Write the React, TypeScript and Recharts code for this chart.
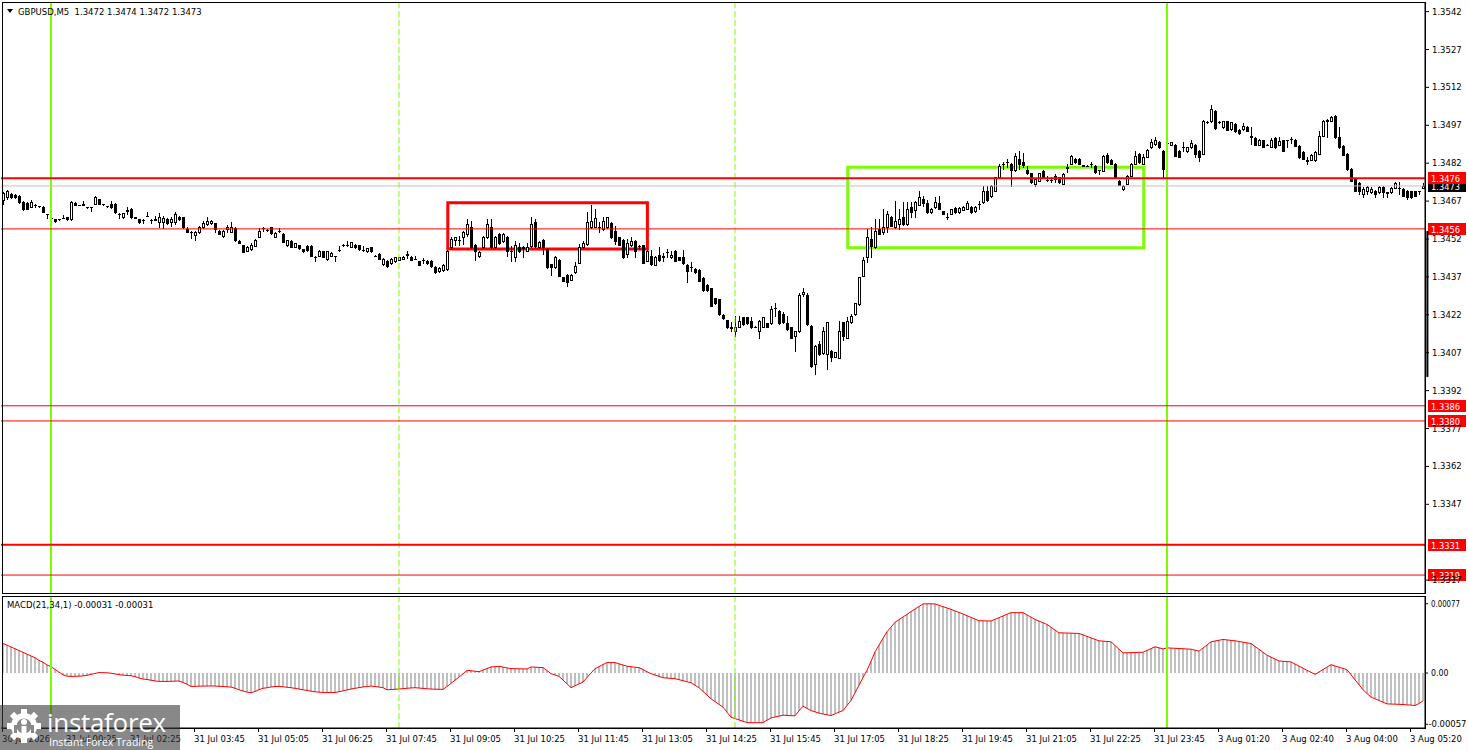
import React from 'react';
import { ComposedChart, Bar, Line, XAxis, YAxis, ReferenceLine, ReferenceArea } from 'recharts';

// ---------- price data (GBPUSD M5), one entry per candle ----------
const openP = [
  1.34674,1.34686,1.34698,1.34696,1.34692,1.34665,1.34662,1.34648,1.34656,1.34649,1.34648,1.34619,1.34604,1.34599,1.34598,1.34604,
  1.34606,1.34598,1.34662,1.34655,1.34656,1.34646,1.34646,1.34659,1.34677,1.34659,1.34649,1.34659,1.34659,1.34620,1.34606,1.34632,
  1.34639,1.34606,1.34599,1.34597,1.34612,1.34596,1.34597,1.34586,1.34586,1.34599,1.34586,1.34586,1.34608,1.34606,1.34559,1.34548,
  1.34536,1.34546,1.34569,1.34579,1.34582,1.34582,1.34553,1.34530,1.34560,1.34548,1.34562,1.34513,1.34496,1.34474,1.34480,1.34494,
  1.34529,1.34563,1.34556,1.34566,1.34529,1.34550,1.34540,1.34496,1.34513,1.34489,1.34496,1.34479,1.34494,1.34494,1.34450,1.34453,
  1.34471,1.34440,1.34454,1.34451,1.34476,1.34496,1.34496,1.34489,1.34498,1.34496,1.34476,1.34471,1.34487,1.34454,1.34461,1.34421,
  1.34434,1.34425,1.34431,1.34437,1.34441,1.34458,1.34450,1.34441,1.34431,1.34437,1.34434,1.34434,1.34410,1.34392,1.34397,1.34401,
  1.34487,1.34515,1.34515,1.34526,1.34540,1.34569,1.34497,1.34454,1.34487,1.34526,1.34569,1.34487,1.34540,1.34511,1.34529,1.34471,
  1.34450,1.34490,1.34486,1.34474,1.34493,1.34586,1.34487,1.34516,1.34480,1.34421,1.34408,1.34438,1.34368,1.34378,1.34358,1.34388,
  1.34427,1.34487,1.34500,1.34566,1.34569,1.34566,1.34559,1.34566,1.34582,1.34553,1.34526,1.34516,1.34460,1.34496,1.34513,1.34494,
  1.34496,1.34434,1.34454,1.34418,1.34457,1.34450,1.34467,1.34447,1.34471,1.34447,1.34450,1.34418,1.34410,1.34403,1.34397,1.34366,
  1.34339,1.34326,1.34286,1.34282,1.34220,1.34199,1.34170,1.34154,1.34173,1.34210,1.34210,1.34196,1.34173,1.34157,1.34173,1.34186,
  1.34186,1.34247,1.34236,1.34223,1.34186,1.34170,1.34137,1.34154,1.34302,1.34299,1.34177,1.34025,1.34104,1.34067,1.34064,1.34078,
  1.34054,1.34051,1.34190,1.34130,1.34190,1.34223,1.34262,1.34375,1.34447,1.34520,1.34487,1.34559,1.34546,1.34566,1.34606,1.34566,
  1.34579,1.34606,1.34579,1.34648,1.34635,1.34656,1.34678,1.34661,1.34626,1.34645,1.34661,1.34630,1.34608,1.34619,1.34642,1.34626,
  1.34635,1.34639,1.34648,1.34630,1.34659,1.34665,1.34711,1.34690,1.34711,1.34764,1.34817,1.34823,1.34817,1.34793,1.34837,1.34823,
  1.34794,1.34780,1.34738,1.34751,1.34791,1.34754,1.34754,1.34770,1.34764,1.34738,1.34804,1.34817,1.34837,1.34837,1.34810,1.34810,
  1.34817,1.34810,1.34793,1.34791,1.34854,1.34833,1.34817,1.34751,1.34718,1.34738,1.34771,1.34817,1.34857,1.34817,1.34846,1.34883,
  1.34896,1.34903,1.34870,1.34899,1.34894,1.34894,1.34870,1.34883,1.34867,1.34883,1.34894,1.34870,1.34857,1.34983,1.34986,1.35028,
  1.34983,1.34962,1.34986,1.34955,1.34975,1.34952,1.34955,1.34965,1.34926,1.34920,1.34894,1.34910,1.34894,1.34886,1.34920,1.34894,
  1.34910,1.34910,1.34916,1.34912,1.34890,1.34864,1.34830,1.34833,1.34833,1.34857,1.34929,1.34989,1.34989,1.35008,1.34923,1.34890,
  1.34857,1.34797,1.34757,1.34741,1.34698,1.34710,1.34705,1.34711,1.34705,1.34727,1.34705,1.34705,1.34722,1.34722,1.34718,1.34711,
  1.34709,1.34709,1.34709,1.34720,
];
const highP = [
  1.34705,1.34715,1.34702,1.34700,1.34695,1.34669,1.34665,1.34674,1.34658,1.34651,1.34650,1.34620,1.34605,1.34600,1.34601,1.34616,
  1.34607,1.34670,1.34665,1.34656,1.34669,1.34648,1.34648,1.34689,1.34680,1.34660,1.34652,1.34669,1.34661,1.34622,1.34624,1.34645,
  1.34642,1.34608,1.34601,1.34599,1.34626,1.34599,1.34613,1.34622,1.34612,1.34602,1.34606,1.34628,1.34610,1.34608,1.34569,1.34550,
  1.34550,1.34572,1.34593,1.34608,1.34596,1.34584,1.34555,1.34556,1.34575,1.34586,1.34568,1.34515,1.34498,1.34492,1.34504,1.34519,
  1.34564,1.34566,1.34558,1.34569,1.34546,1.34564,1.34542,1.34518,1.34515,1.34505,1.34498,1.34481,1.34496,1.34496,1.34452,1.34475,
  1.34473,1.34474,1.34469,1.34454,1.34494,1.34499,1.34512,1.34510,1.34500,1.34498,1.34492,1.34486,1.34489,1.34456,1.34465,1.34443,
  1.34436,1.34443,1.34450,1.34450,1.34452,1.34472,1.34452,1.34454,1.34433,1.34446,1.34436,1.34436,1.34413,1.34408,1.34420,1.34476,
  1.34529,1.34529,1.34533,1.34550,1.34599,1.34590,1.34500,1.34473,1.34530,1.34599,1.34599,1.34530,1.34544,1.34544,1.34532,1.34494,
  1.34513,1.34505,1.34494,1.34506,1.34608,1.34600,1.34512,1.34519,1.34483,1.34423,1.34453,1.34441,1.34370,1.34380,1.34383,1.34428,
  1.34500,1.34513,1.34626,1.34656,1.34639,1.34586,1.34606,1.34608,1.34586,1.34570,1.34529,1.34519,1.34520,1.34526,1.34516,1.34496,
  1.34498,1.34476,1.34475,1.34453,1.34487,1.34463,1.34480,1.34474,1.34476,1.34450,1.34476,1.34421,1.34430,1.34405,1.34400,1.34368,
  1.34341,1.34328,1.34288,1.34284,1.34222,1.34201,1.34190,1.34216,1.34216,1.34212,1.34212,1.34210,1.34175,1.34200,1.34213,1.34188,
  1.34256,1.34265,1.34238,1.34230,1.34216,1.34172,1.34157,1.34308,1.34328,1.34305,1.34180,1.34102,1.34117,1.34170,1.34193,1.34080,
  1.34074,1.34196,1.34192,1.34210,1.34225,1.34268,1.34370,1.34447,1.34560,1.34566,1.34599,1.34599,1.34639,1.34632,1.34610,1.34669,
  1.34639,1.34665,1.34665,1.34668,1.34669,1.34711,1.34690,1.34674,1.34642,1.34685,1.34690,1.34632,1.34621,1.34640,1.34645,1.34645,
  1.34650,1.34669,1.34650,1.34652,1.34672,1.34730,1.34731,1.34734,1.34767,1.34815,1.34824,1.34837,1.34820,1.34862,1.34870,1.34860,
  1.34810,1.34783,1.34761,1.34783,1.34793,1.34770,1.34764,1.34777,1.34767,1.34780,1.34817,1.34853,1.34840,1.34840,1.34813,1.34812,
  1.34824,1.34813,1.34795,1.34853,1.34860,1.34837,1.34820,1.34754,1.34734,1.34774,1.34820,1.34870,1.34862,1.34857,1.34875,1.34916,
  1.34923,1.34906,1.34873,1.34903,1.34905,1.34897,1.34873,1.34903,1.34886,1.34910,1.34897,1.34873,1.34992,1.34988,1.35052,1.35030,
  1.34988,1.34989,1.34989,1.34985,1.34978,1.34954,1.34978,1.34968,1.34962,1.34923,1.34915,1.34913,1.34896,1.34920,1.34923,1.34923,
  1.34913,1.34913,1.34923,1.34915,1.34893,1.34867,1.34843,1.34857,1.34867,1.34949,1.34992,1.34995,1.35008,1.35010,1.34962,1.34893,
  1.34860,1.34800,1.34760,1.34744,1.34725,1.34730,1.34725,1.34715,1.34728,1.34730,1.34708,1.34725,1.34745,1.34745,1.34722,1.34714,
  1.34711,1.34711,1.34711,1.34740,
];
const lowP = [
  1.34659,1.34680,1.34683,1.34684,1.34663,1.34635,1.34637,1.34645,1.34646,1.34648,1.34626,1.34605,1.34600,1.34588,1.34596,1.34603,
  1.34596,1.34596,1.34654,1.34653,1.34655,1.34643,1.34632,1.34657,1.34657,1.34656,1.34647,1.34643,1.34623,1.34605,1.34604,1.34620,
  1.34604,1.34603,1.34584,1.34584,1.34610,1.34584,1.34595,1.34566,1.34562,1.34580,1.34573,1.34579,1.34596,1.34564,1.34546,1.34525,
  1.34516,1.34544,1.34565,1.34577,1.34580,1.34546,1.34538,1.34528,1.34548,1.34546,1.34514,1.34503,1.34468,1.34472,1.34478,1.34492,
  1.34527,1.34553,1.34553,1.34540,1.34527,1.34548,1.34507,1.34494,1.34487,1.34487,1.34481,1.34469,1.34474,1.34452,1.34434,1.34451,
  1.34448,1.34438,1.34452,1.34434,1.34474,1.34494,1.34494,1.34487,1.34485,1.34478,1.34474,1.34469,1.34469,1.34451,1.34439,1.34419,
  1.34408,1.34423,1.34429,1.34435,1.34439,1.34446,1.34435,1.34439,1.34416,1.34426,1.34423,1.34410,1.34386,1.34390,1.34395,1.34399,
  1.34480,1.34495,1.34498,1.34500,1.34533,1.34485,1.34436,1.34450,1.34485,1.34524,1.34485,1.34485,1.34500,1.34508,1.34454,1.34434,
  1.34434,1.34469,1.34450,1.34472,1.34490,1.34490,1.34485,1.34460,1.34406,1.34379,1.34406,1.34372,1.34353,1.34335,1.34356,1.34386,
  1.34425,1.34485,1.34498,1.34564,1.34567,1.34546,1.34557,1.34564,1.34524,1.34500,1.34495,1.34445,1.34450,1.34494,1.34450,1.34480,
  1.34425,1.34432,1.34419,1.34416,1.34434,1.34434,1.34450,1.34445,1.34432,1.34435,1.34422,1.34350,1.34395,1.34386,1.34353,1.34316,
  1.34316,1.34254,1.34263,1.34221,1.34205,1.34168,1.34157,1.34137,1.34171,1.34181,1.34184,1.34168,1.34170,1.34130,1.34171,1.34171,
  1.34184,1.34216,1.34184,1.34188,1.34161,1.34128,1.34078,1.34152,1.34295,1.34181,1.34015,1.33985,1.34062,1.34065,1.34005,1.34038,
  1.34052,1.34049,1.34120,1.34128,1.34188,1.34221,1.34260,1.34373,1.34430,1.34450,1.34485,1.34538,1.34540,1.34548,1.34570,1.34564,
  1.34560,1.34577,1.34577,1.34606,1.34606,1.34654,1.34652,1.34624,1.34624,1.34643,1.34637,1.34617,1.34599,1.34617,1.34624,1.34624,
  1.34633,1.34637,1.34624,1.34628,1.34638,1.34663,1.34672,1.34688,1.34709,1.34762,1.34797,1.34806,1.34731,1.34791,1.34797,1.34806,
  1.34778,1.34742,1.34731,1.34749,1.34765,1.34751,1.34744,1.34744,1.34742,1.34736,1.34784,1.34815,1.34821,1.34815,1.34808,1.34808,
  1.34804,1.34782,1.34777,1.34789,1.34821,1.34815,1.34762,1.34733,1.34714,1.34736,1.34769,1.34815,1.34821,1.34815,1.34844,1.34881,
  1.34894,1.34881,1.34764,1.34895,1.34892,1.34848,1.34844,1.34870,1.34865,1.34881,1.34843,1.34830,1.34855,1.34980,1.34984,1.34957,
  1.34978,1.34960,1.34950,1.34953,1.34942,1.34937,1.34953,1.34947,1.34896,1.34892,1.34892,1.34884,1.34891,1.34884,1.34881,1.34892,
  1.34868,1.34886,1.34900,1.34888,1.34841,1.34835,1.34817,1.34831,1.34830,1.34855,1.34927,1.34923,1.34987,1.34921,1.34881,1.34852,
  1.34795,1.34749,1.34709,1.34700,1.34685,1.34700,1.34703,1.34685,1.34703,1.34685,1.34685,1.34703,1.34720,1.34698,1.34690,1.34679,
  1.34683,1.34690,1.34698,1.34720,
];
const closeP = [
  1.34701,1.34709,1.34685,1.34686,1.34665,1.34639,1.34640,1.34668,1.34656,1.34650,1.34628,1.34619,1.34602,1.34590,1.34599,1.34605,
  1.34598,1.34668,1.34656,1.34654,1.34657,1.34645,1.34646,1.34685,1.34659,1.34658,1.34650,1.34645,1.34625,1.34619,1.34622,1.34633,
  1.34606,1.34605,1.34586,1.34597,1.34613,1.34597,1.34598,1.34608,1.34603,1.34583,1.34599,1.34619,1.34598,1.34566,1.34549,1.34547,
  1.34546,1.34569,1.34582,1.34590,1.34593,1.34560,1.34540,1.34553,1.34567,1.34566,1.34516,1.34506,1.34470,1.34490,1.34496,1.34516,
  1.34553,1.34564,1.34555,1.34542,1.34544,1.34551,1.34509,1.34516,1.34489,1.34503,1.34483,1.34471,1.34476,1.34454,1.34450,1.34471,
  1.34450,1.34471,1.34466,1.34452,1.34477,1.34497,1.34497,1.34507,1.34487,1.34480,1.34477,1.34484,1.34471,1.34453,1.34441,1.34441,
  1.34412,1.34441,1.34447,1.34447,1.34450,1.34459,1.34437,1.34442,1.34418,1.34436,1.34425,1.34412,1.34388,1.34405,1.34417,1.34474,
  1.34520,1.34526,1.34516,1.34546,1.34579,1.34487,1.34471,1.34470,1.34526,1.34579,1.34487,1.34526,1.34503,1.34540,1.34474,1.34472,
  1.34496,1.34471,1.34487,1.34490,1.34579,1.34493,1.34509,1.34487,1.34408,1.34410,1.34450,1.34375,1.34355,1.34348,1.34379,1.34414,
  1.34490,1.34506,1.34586,1.34590,1.34603,1.34567,1.34593,1.34606,1.34526,1.34513,1.34497,1.34447,1.34506,1.34513,1.34474,1.34493,
  1.34427,1.34474,1.34421,1.34450,1.34436,1.34451,1.34468,1.34458,1.34434,1.34437,1.34424,1.34395,1.34410,1.34388,1.34355,1.34318,
  1.34318,1.34256,1.34265,1.34223,1.34207,1.34170,1.34169,1.34170,1.34196,1.34183,1.34186,1.34170,1.34172,1.34196,1.34210,1.34173,
  1.34243,1.34246,1.34186,1.34190,1.34163,1.34130,1.34154,1.34299,1.34312,1.34183,1.34018,1.34098,1.34064,1.34157,1.34190,1.34054,
  1.34071,1.34157,1.34137,1.34196,1.34216,1.34265,1.34368,1.34437,1.34529,1.34493,1.34553,1.34540,1.34566,1.34619,1.34573,1.34593,
  1.34599,1.34579,1.34639,1.34626,1.34665,1.34685,1.34661,1.34626,1.34639,1.34665,1.34639,1.34619,1.34609,1.34637,1.34626,1.34642,
  1.34648,1.34661,1.34626,1.34648,1.34660,1.34711,1.34674,1.34731,1.34764,1.34810,1.34818,1.34824,1.34793,1.34850,1.34817,1.34813,
  1.34780,1.34744,1.34758,1.34780,1.34767,1.34753,1.34754,1.34758,1.34744,1.34777,1.34803,1.34850,1.34823,1.34817,1.34811,1.34810,
  1.34818,1.34784,1.34793,1.34850,1.34823,1.34817,1.34764,1.34735,1.34731,1.34771,1.34817,1.34850,1.34823,1.34843,1.34872,1.34903,
  1.34912,1.34883,1.34797,1.34900,1.34903,1.34850,1.34846,1.34884,1.34883,1.34899,1.34857,1.34843,1.34986,1.34984,1.35035,1.34959,
  1.34982,1.34986,1.34952,1.34982,1.34949,1.34939,1.34969,1.34949,1.34925,1.34894,1.34912,1.34886,1.34893,1.34910,1.34883,1.34907,
  1.34870,1.34910,1.34916,1.34890,1.34843,1.34837,1.34831,1.34854,1.34864,1.34929,1.34989,1.34990,1.35002,1.34923,1.34883,1.34854,
  1.34797,1.34751,1.34711,1.34709,1.34718,1.34725,1.34718,1.34698,1.34725,1.34705,1.34704,1.34722,1.34741,1.34723,1.34692,1.34685,
  1.34685,1.34692,1.34709,1.34730,
];

// ---------- MACD(21,34,1) histogram / signal ----------
const macdV = [
  0.000328,0.00031,0.00029,0.00027,0.00025,0.00023,0.00021,0.00019,0.00017,0.00014,0.00012,0.00009,0.00007,0.00004,0.00001,-0.00002,
  -0.000035,-0.000037,-0.000036,-0.000035,-0.000032,-0.000026,-0.000015,-0.000005,0.000005,0.000004,0.000002,-0.000002,-0.00001,-0.000018,-0.000023,-0.000028,
  -0.00003,-0.00004,-0.000055,-0.000067,-0.000072,-0.00008,-0.000088,-0.000093,-0.000093,-0.000093,-0.000092,-0.00009,-0.000089,-0.000105,-0.000125,-0.000149,
  -0.000148,-0.000146,-0.000145,-0.000145,-0.000144,-0.000145,-0.000148,-0.00015,-0.000153,-0.000156,-0.00017,-0.000186,-0.0002,-0.000212,-0.000219,-0.000205,
  -0.000185,-0.00017,-0.000163,-0.000155,-0.00015,-0.000149,-0.000153,-0.000158,-0.000163,-0.00017,-0.000178,-0.000186,-0.000194,-0.000202,-0.000208,-0.000213,
  -0.000216,-0.000217,-0.000217,-0.000216,-0.000208,-0.000198,-0.000188,-0.000178,-0.00017,-0.000162,-0.000155,-0.00015,-0.000145,-0.00015,-0.000156,-0.000163,
  -0.000186,-0.000184,-0.00018,-0.000178,-0.000174,-0.00017,-0.000166,-0.000163,-0.000167,-0.000171,-0.000175,-0.000178,-0.00018,-0.000181,-0.000182,-0.00015,
  -0.000115,-0.00008,-0.000045,-0.00001,0.00003,0.000025,0.00002,0.000015,0.000032,0.00005,0.000067,0.000071,0.000075,0.000066,0.000057,0.000049,
  0.000048,0.000047,0.000046,0.000045,0.000067,0.000065,0.000062,0.00006,0.000027,-0.000007,-0.000022,-0.000037,-0.000078,-0.000119,-0.000163,-0.000142,
  -0.000121,-0.0001,-0.00005,0,0.000049,0.000071,0.000094,0.000116,0.000116,0.000116,0.000102,0.000089,0.000075,0.00007,0.000065,0.00006,
  0.000038,0.000015,-0.000007,-0.000022,-0.000037,-0.000052,-0.000056,-0.00006,-0.000063,-0.000074,-0.000085,-0.000097,-0.000108,-0.000135,-0.000163,-0.000204,
  -0.000245,-0.000286,-0.000317,-0.000348,-0.000379,-0.000435,-0.000491,-0.000506,-0.000521,-0.000536,-0.000551,-0.000552,-0.000552,-0.000552,-0.000551,-0.000525,
  -0.000499,-0.000489,-0.000479,-0.000469,-0.000471,-0.000474,-0.000476,-0.00042,-0.000368,-0.000393,-0.000417,-0.000432,-0.000446,-0.000455,-0.000464,-0.000473,
  -0.000454,-0.000435,-0.000417,-0.00036,-0.000305,-0.00022,-0.000135,-0.00005,0.00003,0.00013,0.000235,0.00031,0.000385,0.000458,0.00051,0.000563,
  0.000593,0.000623,0.000652,0.000682,0.000711,0.00074,0.000768,0.000769,0.000769,0.000768,0.000753,0.000738,0.000723,0.000708,0.00069,0.000673,
  0.000656,0.000637,0.000618,0.0006,0.000581,0.00058,0.000579,0.000578,0.000597,0.000615,0.000634,0.000653,0.000671,0.000671,0.000671,0.000671,
  0.000646,0.000621,0.000596,0.000577,0.000559,0.00054,0.000509,0.000478,0.000447,0.000446,0.000444,0.000443,0.000441,0.00044,0.000424,0.000407,
  0.000391,0.000374,0.000358,0.000354,0.000351,0.000347,0.000306,0.000265,0.000224,0.000225,0.000227,0.000228,0.00023,0.000231,0.000251,0.000271,
  0.000291,0.00028,0.000268,0.00028,0.000277,0.000275,0.000272,0.00027,0.000267,0.000265,0.000254,0.000243,0.000278,0.000312,0.000347,0.000356,
  0.000364,0.000373,0.000368,0.000363,0.000358,0.00035,0.000343,0.000335,0.000328,0.000295,0.000263,0.00023,0.000198,0.000177,0.000155,0.000134,
  0.00013,0.000127,0.000123,0.0001,0.000077,0.000054,0.00003,0.000008,-0.000015,0.000012,0.00004,0.000066,0.000093,0.000079,0.000065,0.000051,
  0.000037,-0.000019,-0.000075,-0.00013,-0.000186,-0.000227,-0.000268,-0.000287,-0.000305,-0.000324,-0.000343,-0.000345,-0.000346,-0.000348,-0.00035,-0.000354,
  -0.000357,-0.000361,-0.00034,-0.00031,
];

// ---------- axis labels ----------
const timeTickIndex = [0,16,32,48,64,80,96,112,128,144,160,176,192,208,224,240,256,272,288,304,320,336,352];
const timeTickLabels = [
  '30 Jul 2026','31 Jul 00:25','31 Jul 02:25','31 Jul 03:45','31 Jul 05:05','31 Jul 06:25','31 Jul 07:45',
  '31 Jul 09:05','31 Jul 10:25','31 Jul 11:45','31 Jul 13:05','31 Jul 14:25','31 Jul 15:45','31 Jul 17:05',
  '31 Jul 18:25','31 Jul 19:45','31 Jul 21:05','31 Jul 22:25','31 Jul 23:45','3 Aug 01:20','3 Aug 02:40',
  '3 Aug 04:00','3 Aug 05:20',
];
const priceTicks = [1.3542,1.3527,1.3512,1.3497,1.3482,1.3467,1.3452,1.3437,1.3422,1.3407,1.3392,1.3377,1.3362,1.3347,1.3317];
const macdTicks = [0.00077, 0, -0.00057];

// ---------- annotations ----------
const levelPrices = [1.3476, 1.3456, 1.3386, 1.3380, 1.3331, 1.3319];
const thickLevels = [1.3476, 1.3331];
const bidPrice = 1.3473;
const daySeparators = [12, 291];
const sessionMarks = [99, 183];
const redZone = { x1: 111.2, x2: 161.1, top: 1.34663, bottom: 1.3448 };
const greenZone = { x1: 211.2, x2: 285.2, top: 1.34804, bottom: 1.34485 };
const scaleBar = { x: 356.1, top: 1.34552, bottom: 1.33974 };

const FONT = 'DejaVu Sans';
const RED = '#ff0000';
const GREEN = '#7cfc00';

const rows = openP.map((o, i) => ({
  i,
  open: o,
  high: highP[i],
  low: lowP[i],
  close: closeP[i],
  range: [lowP[i], highP[i]],
  macd: macdV[i],
}));

const Candle = (props: any) => {
  const { x, y, width, height, payload } = props;
  if (x == null || y == null || !payload) return null;
  const { open, close, high, low } = payload;
  const top = Math.min(y, y + height);
  const bot = Math.max(y, y + height);
  const span = high - low;
  const toY = (v: number) => (span > 0 ? top + ((high - v) / span) * (bot - top) : top);
  const px = Math.round(x + width / 2);
  const yo = toY(open);
  const yc = toY(close);
  const bt = Math.round(Math.min(yo, yc));
  const bb = Math.round(Math.max(yo, yc));
  const bull = close >= open;
  return (
    <g>
      <line x1={px + 0.5} x2={px + 0.5} y1={Math.round(top)} y2={Math.round(bot) + 1} stroke="#000" strokeWidth={1} shapeRendering="crispEdges" />
      {bb - bt < 1 ? (
        <line x1={px - 1} x2={px + 2} y1={bt + 0.5} y2={bt + 0.5} stroke="#000" strokeWidth={1} shapeRendering="crispEdges" />
      ) : bull ? (
        <rect x={px - 0.5} y={bt + 0.5} width={2} height={bb - bt} fill="#fff" stroke="#000" strokeWidth={1} shapeRendering="crispEdges" />
      ) : (
        <rect x={px - 1} y={bt} width={3} height={bb - bt + 1} fill="#000" shapeRendering="crispEdges" />
      )}
    </g>
  );
};

const PriceTag = (props: any) => {
  const { viewBox, text, bg } = props;
  if (!viewBox) return null;
  const x = viewBox.x + viewBox.width + 3;
  const y = Math.round(viewBox.y);
  return (
    <g>
      <rect x={x} y={y - 6} width={38} height={12} fill={bg} />
      <text x={x + 3} y={y + 3.5} fill="#fff" fontSize={8.5} fontFamily={FONT} textLength={29} lengthAdjust="spacingAndGlyphs">{text}</text>
    </g>
  );
};

const TimeTick = (props: any) => {
  const { x, y, payload } = props;
  const idx = timeTickIndex.indexOf(payload.value);
  const label = idx >= 0 ? timeTickLabels[idx] : '';
  const rx = Math.round(x);
  return (
    <g>
      <line x1={rx - 0.5} x2={rx - 0.5} y1={y} y2={y + 4} stroke="#000" strokeWidth={1} />
      <text x={rx - 1} y={y + 13.5} fontSize={8.5} fontFamily={FONT} fill="#000" textAnchor="start">{label}</text>
    </g>
  );
};

const MacdTick = (props: any) => {
  const { x, y, payload } = props;
  const v = payload.value as number;
  const label = v === 0 ? '0.00' : v.toFixed(5);
  const neg = v < 0;
  const len = neg ? 38 : v === 0 ? 17.5 : 29;
  return (
    <text
      x={neg ? x - 2.5 : x}
      y={y}
      dy="0.355em"
      fontSize={8.5}
      fontFamily={FONT}
      fill="#000"
      textAnchor="start"
      textLength={len}
      lengthAdjust="spacingAndGlyphs"
    >
      {label}
    </text>
  );
};

const axisTick = { fontSize: 8.5, fill: '#000', fontFamily: FONT };

export default function App() {
  return (
    <div style={{ position: 'absolute', left: 0, top: 0, width: 1468, height: 750, background: '#fff', overflow: 'hidden' }}>
      {/* price panel */}
      <div style={{ position: 'absolute', left: 0, top: 0 }}>
        <ComposedChart width={1468} height={596} data={rows} margin={{ top: 2, right: 0, bottom: 3, left: 1 }}>
          <XAxis dataKey="i" hide />
          <XAxis xAxisId="n" type="number" dataKey="i" domain={[-0.5, 355.5]} allowDataOverflow hide />
          <YAxis
            orientation="right"
            domain={[1.33119, 1.35458]}
            allowDataOverflow
            ticks={priceTicks}
            interval={0}
            width={43}
            tickSize={4}
            tickMargin={3}
            axisLine={{ stroke: '#000' }}
            tickLine={{ stroke: '#000' }}
            tick={axisTick}
            tickFormatter={(v: number) => v.toFixed(4)}
          />
          {sessionMarks.map((s) => (
            <ReferenceLine key={'s' + s} xAxisId="n" x={s} stroke={GREEN} strokeWidth={1} strokeDasharray="6 3" />
          ))}
          {daySeparators.map((d) => (
            <ReferenceLine key={'d' + d} xAxisId="n" x={d} stroke={GREEN} strokeWidth={2} />
          ))}
          <Bar dataKey="range" barSize={4} isAnimationActive={false} shape={(p: any) => <Candle {...p} />} />
          <ReferenceLine
            y={bidPrice}
            stroke="#c0c0c0"
            strokeWidth={1}
            label={(p: any) => <PriceTag {...p} text={bidPrice.toFixed(4)} bg="#000" />}
          />
          {levelPrices.map((lv) => (
            <ReferenceLine
              key={'l' + lv}
              y={lv}
              stroke={RED}
              strokeWidth={thickLevels.includes(lv) ? 2 : 1}
              label={(p: any) => <PriceTag {...p} text={lv.toFixed(4)} bg={RED} />}
            />
          ))}
          <ReferenceArea xAxisId="n" x1={redZone.x1} x2={redZone.x2} y1={redZone.bottom} y2={redZone.top} fill="none" fillOpacity={0} stroke={RED} strokeWidth={3} />
          <ReferenceArea xAxisId="n" x1={greenZone.x1} x2={greenZone.x2} y1={greenZone.bottom} y2={greenZone.top} fill="none" fillOpacity={0} stroke={GREEN} strokeWidth={3} />
          <ReferenceLine
            xAxisId="n"
            ifOverflow="visible"
            segment={[{ x: scaleBar.x, y: scaleBar.top }, { x: scaleBar.x, y: scaleBar.bottom }]}
            stroke="#000"
            strokeWidth={2}
          />
        </ComposedChart>
      </div>

      {/* MACD panel */}
      <div style={{ position: 'absolute', left: 0, top: 594 }}>
        <ComposedChart width={1468} height={156} data={rows} margin={{ top: 2, right: 0, bottom: 0, left: 1 }}>
          <XAxis
            dataKey="i"
            ticks={timeTickIndex}
            interval={0}
            height={22}
            tickSize={0}
            tickMargin={0}
            axisLine={{ stroke: '#000' }}
            tickLine={false}
            tick={(p: any) => <TimeTick {...p} />}
          />
          <XAxis xAxisId="n" type="number" dataKey="i" domain={[-0.5, 355.5]} allowDataOverflow hide />
          <YAxis
            orientation="right"
            domain={[-0.000611, 0.000856]}
            allowDataOverflow
            ticks={macdTicks}
            interval={0}
            width={43}
            tickSize={3}
            tickMargin={3}
            axisLine={{ stroke: '#000' }}
            tickLine={{ stroke: '#000' }}
            tick={(p: any) => <MacdTick {...p} />}
          />
          <Bar dataKey="macd" fill="#c0c0c0" barSize={2} isAnimationActive={false} />
          <Line dataKey="macd" type="linear" stroke={RED} strokeWidth={1} dot={false} activeDot={false} isAnimationActive={false} />
          {sessionMarks.map((s) => (
            <ReferenceLine key={'ms' + s} xAxisId="n" x={s} stroke={GREEN} strokeWidth={1} strokeDasharray="6 3" />
          ))}
          {daySeparators.map((d) => (
            <ReferenceLine key={'md' + d} xAxisId="n" x={d} stroke={GREEN} strokeWidth={2} />
          ))}
        </ComposedChart>
      </div>

      {/* frames and panel captions */}
      <svg width={1468} height={750} style={{ position: 'absolute', left: 0, top: 0, pointerEvents: 'none' }}>
        <rect x={2.5} y={2.5} width={1423} height={591} fill="none" stroke="#000" strokeWidth={1} />
        <rect x={2.5} y={596.5} width={1423} height={132} fill="none" stroke="#000" strokeWidth={1} />
        <polygon points="7,9 13,9 10,13" fill="#000" />
        <text x={18} y={14.5} fontSize={8.5} fontFamily={FONT} fill="#000" style={{ whiteSpace: 'pre' }}>
          {'GBPUSD,M5  1.3472 1.3474 1.3472 1.3473'}
        </text>
        <text x={7} y={608} fontSize={8.5} fontFamily={FONT} fill="#000">
          {'MACD(21,34,1) -0.00031 -0.00031'}
        </text>
      </svg>

      {/* watermark */}
      <div style={{ position: 'absolute', left: 0, top: 705, width: 180, height: 45, background: 'rgba(57,57,57,0.6)' }}>
        <svg width={46} height={45} style={{ position: 'absolute', left: 2, top: 0 }}>
          <g fill="#fff">
            {[0, 45, 90, 135, 180, 225, 270, 315].map((a) => (
              <rect key={a} x={19} y={4} width={6} height={8} transform={`rotate(${a} 22 21)`} />
            ))}
            <circle cx={22} cy={21} r={13} />
          </g>
          <circle cx={22} cy={21} r={7.5} fill="#888" />
          <circle cx={22} cy={17} r={3} fill="#fff" />
          <rect x={19.5} y={21} width={5} height={14} fill="#fff" />
          <rect x={12} y={20} width={3} height={8} fill="#888" />
          <rect x={29} y={20} width={3} height={8} fill="#888" />
        </svg>
        <div style={{ position: 'absolute', left: 47, top: 2, color: '#fff', fontFamily: 'Open Sans', fontSize: 26, lineHeight: '30px', letterSpacing: -0.3 }}>
          instaforex
        </div>
        <div style={{ position: 'absolute', left: 49, top: 31, color: '#fff', fontFamily: 'Open Sans', fontSize: 10.5, lineHeight: '12px' }}>
          Instant Forex Trading
        </div>
      </div>
    </div>
  );
}
